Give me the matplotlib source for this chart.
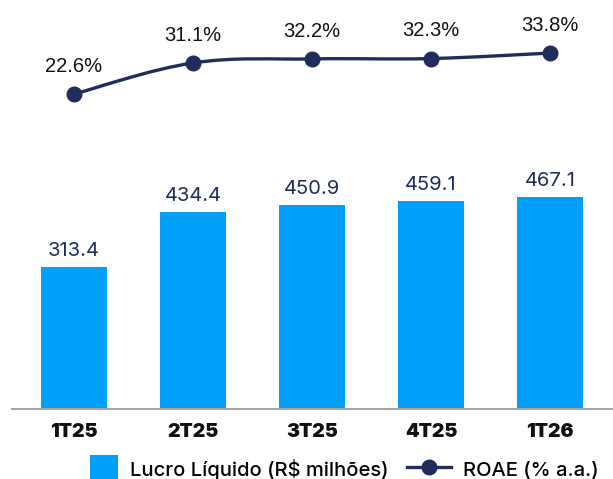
import matplotlib
matplotlib.use("Agg")
import matplotlib.pyplot as plt
import matplotlib.patches as mpatches
from matplotlib.legend_handler import HandlerPatch
from matplotlib.lines import Line2D
from matplotlib.path import Path
import numpy as np

quarters = ["1T25", "2T25", "3T25", "4T25", "1T26"]
lucro = [313.4, 434.4, 450.9, 459.1, 467.1]
roae = [22.6, 31.1, 32.2, 32.3, 33.8]

BAR_BLUE = "#00A0F8"
NAVY = "#1E2D5C"


class SquareHandler(HandlerPatch):
    # square swatch aligned to the right of the handle box
    def create_artists(self, legend, orig_handle, xdescent, ydescent,
                       width, height, fontsize, trans):
        side = height * 1.25
        p = mpatches.Rectangle((width - side - xdescent, -ydescent - (side - height) / 2),
                               side, side, facecolor=orig_handle.get_facecolor(),
                               edgecolor="none", transform=trans)
        return [p]


fig = plt.figure(figsize=(6.13, 4.79), dpi=100)
ax = fig.add_axes([0, 0, 1, 1])
ax2 = ax.twinx()

x = np.arange(len(quarters))
ax.bar(x, lucro, width=0.555, color=BAR_BLUE, zorder=2)
for xi, v in zip(x, lucro):
    ax.annotate(f"{v:.1f}", (xi, v), xytext=(0, 5), textcoords="offset points",
                ha="center", va="bottom", fontsize=14.5, color=NAVY, family="Inter")

ax.set_xlim(-0.622, 4.529)
ax.set_ylim(-154.5, 902.9)
# baseline under the bars
ax.plot([-0.52, 4.529], [0, 0], color="#A8A8A8", linewidth=1.5, zorder=3, clip_on=False)
for xi, q in zip(x, quarters):
    ax.text(xi, -50, q, ha="center", va="center", fontsize=14, fontweight="black",
            color="#111111", family="Inter")

# smooth ROAE line (cubic segments through the points)
pts = np.column_stack([x, roae]).astype(float)
verts = [tuple(pts[0])]
codes = [Path.MOVETO]
t = 0.18
for i in range(len(pts) - 1):
    p0 = pts[i - 1] if i > 0 else pts[i]
    p1, p2 = pts[i], pts[i + 1]
    p3 = pts[i + 2] if i + 2 < len(pts) else pts[i + 1]
    c1 = p1 + (p2 - p0) * t
    c2 = p2 - (p3 - p1) * t
    verts += [tuple(c1), tuple(c2), tuple(p2)]
    codes += [Path.CURVE4] * 3
ax2.add_patch(mpatches.PathPatch(Path(verts, codes), facecolor="none",
                                 edgecolor=NAVY, linewidth=2.4, zorder=3))
ax2.plot(x, roae, linestyle="none", marker="o", markersize=10.5, color=NAVY, zorder=4)
for xi, v in zip(x, roae):
    ax2.annotate(f"{v:.1f}%", (xi, v), xytext=(0, 13), textcoords="offset points",
                 ha="center", va="bottom", fontsize=14.5, color="#111111",
                 family="Liberation Sans")
ax2.set_ylim(-82.6, 48.3)

for a in (ax, ax2):
    a.axis("off")

bar_handle = mpatches.Patch(color=BAR_BLUE, label="Lucro Líquido (R$ milhões)")
line_handle = Line2D([], [], color=NAVY, linewidth=2.4, marker="o", markersize=10.5,
                     label="ROAE (% a.a.)")
fig.legend(handles=[bar_handle, line_handle], loc="center",
           bbox_to_anchor=(336 / 613, 1 - 469 / 479),
           ncol=2, frameon=False,
           prop={"family": "Inter", "size": 14.5, "weight": "medium"},
           handlelength=2.2, handleheight=1.3, columnspacing=0.9, handletextpad=0.6,
           handler_map={mpatches.Patch: SquareHandler()})

fig.savefig("out.png", dpi=100)
